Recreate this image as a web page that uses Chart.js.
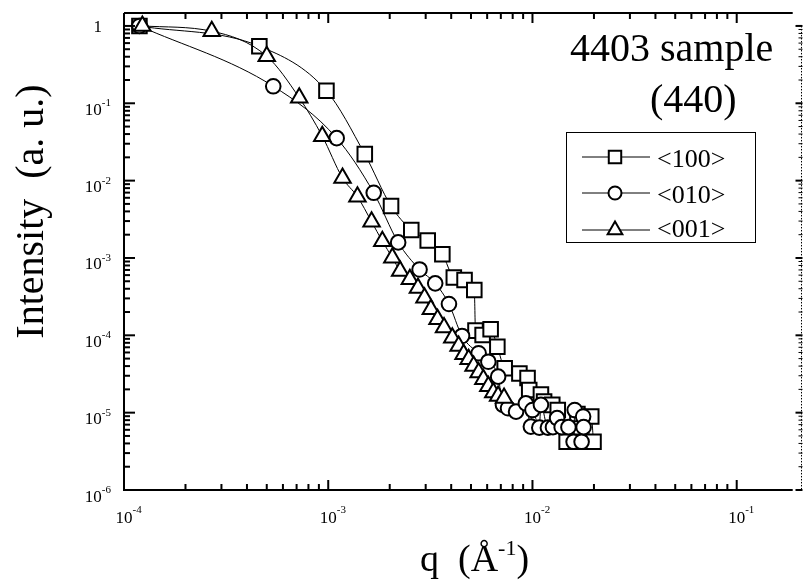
<!DOCTYPE html>
<html>
<head>
<meta charset="utf-8">
<title>4403 sample (440)</title>
<script src="https://cdn.jsdelivr.net/npm/chart.js@4.4.1/dist/chart.umd.min.js"></script>
<style>
  html, body { margin: 0; padding: 0; background: #fff; }
  #wrap { width: 805px; height: 583px; }
</style>
</head>
<body>
<div id="wrap"><canvas id="saxs" width="805" height="583"></canvas></div>
<script>
// values (q in 1/A, intensity normalised)
const q100 = [1.19e-4, 4.6e-4, 9.8e-4, 1.51e-3, 2.03e-3, 2.55e-3, 3.07e-3, 3.62e-3, 4.12e-3, 4.65e-3,
              5.19e-3, 5.26e-3, 5.70e-3, 6.24e-3, 6.73e-3, 7.31e-3, 8.63e-3, 9.46e-3, 9.64e-3, 1.10e-2,
              1.14e-2, 1.25e-2, 1.33e-2, 1.47e-2, 1.66e-2, 1.74e-2, 1.94e-2, 1.99e-2];
const i100 = [1.0, 0.547, 0.145, 0.022, 4.7e-3, 2.3e-3, 1.68e-3, 1.12e-3, 5.6e-4, 5.2e-4,
              3.85e-4, 1.15e-4, 1.01e-4, 1.2e-4, 7.1e-5, 3.75e-5, 3.2e-5, 2.8e-5, 1.96e-5, 1.72e-5,
              1.39e-5, 1.26e-5, 1.08e-5, 4.2e-6, 9.6e-6, 4.2e-6, 8.9e-6, 4.2e-6];

const q010 = [1.19e-4, 5.38e-4, 1.10e-3, 1.67e-3, 2.20e-3, 2.80e-3, 3.34e-3, 3.90e-3, 4.52e-3, 5.45e-3,
              6.08e-3, 6.79e-3, 7.17e-3, 7.59e-3, 8.31e-3, 9.28e-3, 9.82e-3, 1.00e-2, 1.08e-2, 1.10e-2,
              1.19e-2, 1.26e-2, 1.32e-2, 1.39e-2, 1.50e-2, 1.59e-2, 1.61e-2, 1.74e-2, 1.77e-2, 1.78e-2];
const i010 = [1.0, 0.166, 0.0354, 6.96e-3, 1.59e-3, 7.1e-4, 4.7e-4, 2.54e-4, 9.8e-5, 5.85e-5,
              4.56e-5, 2.92e-5, 1.26e-5, 1.14e-5, 1.03e-5, 1.32e-5, 6.6e-6, 1.08e-5, 6.4e-6, 1.26e-5,
              6.4e-6, 6.5e-6, 8.5e-6, 6.5e-6, 6.5e-6, 4.2e-6, 1.08e-5, 4.2e-6, 8.9e-6, 6.5e-6];

const q001 = [1.23e-4, 2.69e-4, 5.0e-4, 7.21e-4, 9.35e-4, 1.175e-3, 1.39e-3, 1.63e-3, 1.84e-3, 2.06e-3,
              2.25e-3, 2.51e-3, 2.75e-3, 2.96e-3, 3.18e-3, 3.43e-3, 3.69e-3, 4.05e-3, 4.35e-3, 4.60e-3,
              4.87e-3, 5.15e-3, 5.45e-3, 5.75e-3, 6.08e-3, 6.43e-3, 6.79e-3, 7.26e-3];
const i001 = [1.0, 0.855, 0.406, 0.118, 0.0376, 0.0108, 6.2e-3, 2.95e-3, 1.65e-3, 1.01e-3,
              6.8e-4, 5.3e-4, 4.1e-4, 3.07e-4, 2.17e-4, 1.61e-4, 1.26e-4, 9.3e-5, 7.3e-5, 5.7e-5,
              4.9e-5, 4.0e-5, 3.3e-5, 2.7e-5, 2.2e-5, 1.82e-5, 1.64e-5, 1.55e-5];

const seriesNames = ['<100>', '<010>', '<001>'];
const seriesStyles = ['rect', 'circle', 'triangle'];

// axis ranges and decade ticks
const xMin = 1e-4, xMax = 0.188;
const yMin = 1e-6, yMax = 1.47;
const xDecades = [-4, -3, -2, -1];
const yDecades = [-6, -5, -4, -3, -2, -1, 0];
const minorSteps = [2, 3, 4, 5, 6, 7, 8, 9];

const serif = '"Liberation Serif", "Times New Roman", serif';

function toPoints(qs, vals) {
    return qs.map((q, k) => ({ x: q, y: vals[k] }));
}

function buildLogTicks(decades, max) {
    const out = [];
    decades.forEach(e => {
        const base = Math.pow(10, e);
        out.push({ value: base, major: true, exp: e });
        minorSteps.forEach(m => {
            if (m * base <= max) out.push({ value: m * base, major: false });
        });
    });
    return out;
}

function markerPath(ctx, style, cx, cy, r) {
    ctx.beginPath();
    if (style === 'rect') {
        const h = r * Math.SQRT1_2;
        ctx.rect(cx - h, cy - h, 2 * h, 2 * h);
    } else if (style === 'circle') {
        ctx.arc(cx, cy, r, 0, Math.PI * 2);
    } else {
        let a = 0;
        ctx.moveTo(cx + Math.sin(a) * r, cy - Math.cos(a) * r);
        a += Math.PI * 2 / 3;
        ctx.lineTo(cx + Math.sin(a) * r, cy - Math.cos(a) * r);
        a += Math.PI * 2 / 3;
        ctx.lineTo(cx + Math.sin(a) * r, cy - Math.cos(a) * r);
        ctx.closePath();
    }
}

// frame, inward ticks, tick labels, titles and the legend box
const paperAxes = {
    id: 'paperAxes',
    afterDraw(chart) {
        const ctx = chart.ctx;
        const a = chart.chartArea;
        const xs = chart.scales.x, ys = chart.scales.y;

        ctx.save();
        ctx.strokeStyle = '#000';
        ctx.fillStyle = '#000';
        ctx.lineWidth = 2;

        ctx.beginPath();
        ctx.moveTo(a.left, a.top);
        ctx.lineTo(a.left, a.bottom);
        ctx.lineTo(a.right, a.bottom);
        ctx.moveTo(a.left, a.top);
        ctx.lineTo(a.right, a.top);
        ctx.stroke();

        // bottom + top ticks
        xs.ticks.forEach(t => {
            const px = xs.getPixelForValue(t.value);
            const len = t.major ? 10 : 6;
            ctx.beginPath();
            ctx.moveTo(px, a.bottom);
            ctx.lineTo(px, a.bottom - len);
            ctx.moveTo(px, a.top);
            ctx.lineTo(px, a.top + len);
            ctx.stroke();
        });

        // left ticks
        ys.ticks.forEach(t => {
            const py = ys.getPixelForValue(t.value);
            const len = t.major ? 11 : 6;
            ctx.beginPath();
            ctx.moveTo(a.left, py);
            ctx.lineTo(a.left + len, py);
            ctx.stroke();
        });

        // dotted right axis, starting at 1
        const rx = 801.5;
        const rTop = ys.getPixelForValue(1);
        ctx.lineWidth = 1;
        ctx.setLineDash([1.5, 1.5]);
        ctx.beginPath();
        ctx.moveTo(rx, rTop);
        ctx.lineTo(rx, a.bottom);
        ctx.stroke();
        ctx.setLineDash([]);
        ys.ticks.forEach(t => {
            if (t.value > 1) return;
            const py = ys.getPixelForValue(t.value);
            ctx.lineWidth = t.major ? 2 : 1;
            ctx.beginPath();
            ctx.moveTo(rx + 1, py);
            ctx.lineTo(rx - (t.major ? 6 : 3), py);
            ctx.stroke();
        });

        // tick labels 10^n
        ctx.textBaseline = 'alphabetic';
        xs.ticks.filter(t => t.major).forEach(t => {
            const px = xs.getPixelForValue(t.value);
            ctx.font = '17px ' + serif;
            const w = ctx.measureText('10').width;
            ctx.textAlign = 'center';
            ctx.fillText('10', px, 523);
            ctx.font = '11px ' + serif;
            ctx.textAlign = 'left';
            ctx.fillText(String(t.exp), px + w / 2, 513);
        });
        ys.ticks.filter(t => t.major).forEach(t => {
            const py = ys.getPixelForValue(t.value);
            if (t.exp === 0) {
                ctx.font = '17px ' + serif;
                ctx.textAlign = 'right';
                ctx.fillText('1', 102, py + 6.5);
                return;
            }
            ctx.font = '11px ' + serif;
            const sw = ctx.measureText(String(t.exp)).width;
            ctx.textAlign = 'left';
            ctx.fillText(String(t.exp), 111 - sw, py + 3);
            ctx.font = '17px ' + serif;
            ctx.textAlign = 'right';
            ctx.fillText('10', 111 - sw, py + 11.5);
        });

        // axis titles
        ctx.font = '40px ' + serif;
        ctx.save();
        ctx.translate(43, 211.5);
        ctx.rotate(-Math.PI / 2);
        ctx.textAlign = 'center';
        ctx.fillText('Intensity  (a. u.)', 0, 0);
        ctx.restore();

        ctx.textAlign = 'left';
        let tx = 420;
        ctx.font = '38px ' + serif;
        ctx.fillText('q  (\u00C5', tx, 571);
        tx += ctx.measureText('q  (\u00C5').width;
        ctx.font = '22px ' + serif;
        ctx.fillText('-1', tx, 555);
        tx += ctx.measureText('-1').width;
        ctx.font = '38px ' + serif;
        ctx.fillText(')', tx, 571);

        // sample label
        ctx.font = '40px ' + serif;
        ctx.fillText('4403 sample', 570, 61);
        ctx.fillText('(440)', 650, 112);

        // legend box
        ctx.lineWidth = 1;
        ctx.strokeRect(566.5, 132.5, 189, 110);
        const rowY = [157, 193, 230];
        const legendR = [8.8, 6.5, 8.5];
        seriesNames.forEach((name, k) => {
            const y = rowY[k];
            ctx.lineWidth = 1;
            ctx.beginPath();
            ctx.moveTo(582, y);
            ctx.lineTo(650, y);
            ctx.stroke();
            ctx.lineWidth = 2;
            ctx.fillStyle = '#fff';
            markerPath(ctx, seriesStyles[k], 615, y, legendR[k]);
            ctx.fill();
            ctx.stroke();
            ctx.fillStyle = '#000';
            ctx.font = '26px ' + serif;
            ctx.fillText(name, 657, y + (k === 2 ? 7 : 9.5));
        });

        ctx.restore();
    }
};

function seriesSet(label, qs, vals, style, radius, order) {
    return {
        label: label,
        data: toPoints(qs, vals),
        showLine: true,
        borderColor: '#000',
        borderWidth: 1,
        cubicInterpolationMode: 'monotone',
        pointStyle: style,
        pointRadius: radius,
        pointBorderWidth: 2,
        pointBorderColor: '#000',
        pointBackgroundColor: '#fff',
        order: order
    };
}

new Chart(document.getElementById('saxs'), {
    type: 'scatter',
    data: {
        datasets: [
            seriesSet(seriesNames[0], q100, i100, seriesStyles[0], 10.3, 2),
            seriesSet(seriesNames[1], q010, i010, seriesStyles[1], 7.3, 1),
            seriesSet(seriesNames[2], q001, i001, seriesStyles[2], 9.5, 0)
        ]
    },
    options: {
        responsive: false,
        devicePixelRatio: 1,
        animation: false,
        events: [],
        layout: { padding: { left: 124, top: 13, right: 0, bottom: 93 } },
        plugins: {
            legend: { display: false },
            tooltip: { enabled: false }
        },
        scales: {
            x: {
                type: 'logarithmic',
                min: xMin,
                max: xMax,
                ticks: { display: false },
                grid: { display: false },
                border: { display: false },
                afterFit: s => { s.height = 0; },
                afterBuildTicks: s => { s.ticks = buildLogTicks(xDecades, xMax); }
            },
            y: {
                type: 'logarithmic',
                min: yMin,
                max: yMax,
                ticks: { display: false },
                grid: { display: false },
                border: { display: false },
                afterFit: s => { s.width = 0; },
                afterBuildTicks: s => { s.ticks = buildLogTicks(yDecades, yMax); }
            }
        }
    },
    plugins: [paperAxes]
});
</script>
</body>
</html>
